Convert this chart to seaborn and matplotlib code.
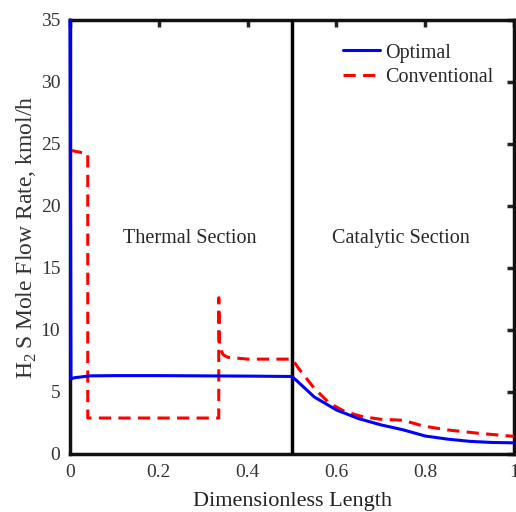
import numpy as np
import pandas as pd
import matplotlib
matplotlib.use("Agg")
import matplotlib.pyplot as plt
import seaborn as sns

# H2S molar flow along the reactor (dimensionless length)
opt_x = [0.0, 0.002, 0.01, 0.045, 0.1, 0.2, 0.3, 0.4, 0.5,
         0.52, 0.55, 0.6, 0.65, 0.7, 0.75, 0.8, 0.85, 0.9, 0.95, 1.0]
opt_y = [35.0, 6.05, 6.15, 6.3, 6.32, 6.32, 6.3, 6.28, 6.25,
         5.6, 4.6, 3.55, 2.85, 2.35, 1.95, 1.45, 1.2, 1.02, 0.93, 0.9]

conv_x = [0.0, 0.04, 0.04, 0.335, 0.335, 0.337, 0.345, 0.355, 0.4, 0.5,
          0.517, 0.55, 0.584, 0.62, 0.66, 0.7, 0.75, 0.795, 0.85, 0.92, 1.0]
conv_y = [24.5, 24.2, 2.9, 2.9, 12.6, 8.6, 8.0, 7.8, 7.65, 7.65,
          6.8, 5.3, 4.1, 3.4, 3.0, 2.8, 2.72, 2.26, 1.94, 1.67, 1.42]

x_ticks = [0, 0.2, 0.4, 0.6, 0.8, 1]
x_tick_labels = ["0", "0.2", "0.4", "0.6", "0.8", "1"]
y_ticks = [0, 5, 10, 15, 20, 25, 30, 35]

sns.set_style("white")
plt.rcParams["font.family"] = ["Liberation Serif", "DejaVu Serif"]
plt.rcParams["mathtext.fontset"] = "custom"
plt.rcParams["mathtext.rm"] = "Liberation Serif"

fig = plt.figure(figsize=(5.16, 5.12), dpi=100)
ax = fig.add_axes([0.1357, 0.1133, 0.8605, 0.8477])

df_opt = pd.DataFrame({"x": opt_x, "y": opt_y})
df_conv = pd.DataFrame({"x": conv_x, "y": conv_y})

sns.lineplot(data=df_opt, x="x", y="y", ax=ax, color="#0000ff", lw=2.2,
             sort=False, estimator=None, label="Optimal", zorder=10)
sns.lineplot(data=df_conv, x="x", y="y", ax=ax, color="#ff0000", lw=2.2,
             sort=False, estimator=None, label="Conventional", zorder=9)
ax.lines[0].set_clip_on(False)
ax.lines[-1].set_dashes([4, 2.4])

# boundary between thermal and catalytic sections
ax.axvline(0.5, color="black", lw=2.5, zorder=8)

ax.text(0.27, 17.4, "Thermal Section", ha="center", va="center", fontsize=14.5)
ax.text(0.746, 17.4, "Catalytic Section", ha="center", va="center", fontsize=14.5)

ax.set_xlim(0, 1)
ax.set_ylim(0, 35)
ax.set_xticks(x_ticks)
ax.set_xticklabels(x_tick_labels)
ax.set_yticks(y_ticks)
ax.tick_params(direction="in", length=5, width=2.5, labelsize=14,
               top=True, right=True, color="#222222", pad=7,
               labelcolor="#333333")
for s in ax.spines.values():
    s.set_linewidth(2.5)
    s.set_color("#111111")

ax.set_xlabel("Dimensionless Length", fontsize=16, labelpad=8,
              color="#222222")
ax.set_ylabel("H$_2\\,$S Mole Flow Rate, kmol/h", fontsize=17, labelpad=1,
              color="#333333")

leg = ax.legend(loc="upper left", frameon=False, fontsize=14.5,
                handlelength=1.85, handletextpad=0.25, labelspacing=0.25,
                borderpad=0, borderaxespad=0,
                bbox_to_anchor=(0.615, 0.946))

fig.savefig("out.png", dpi=100)
